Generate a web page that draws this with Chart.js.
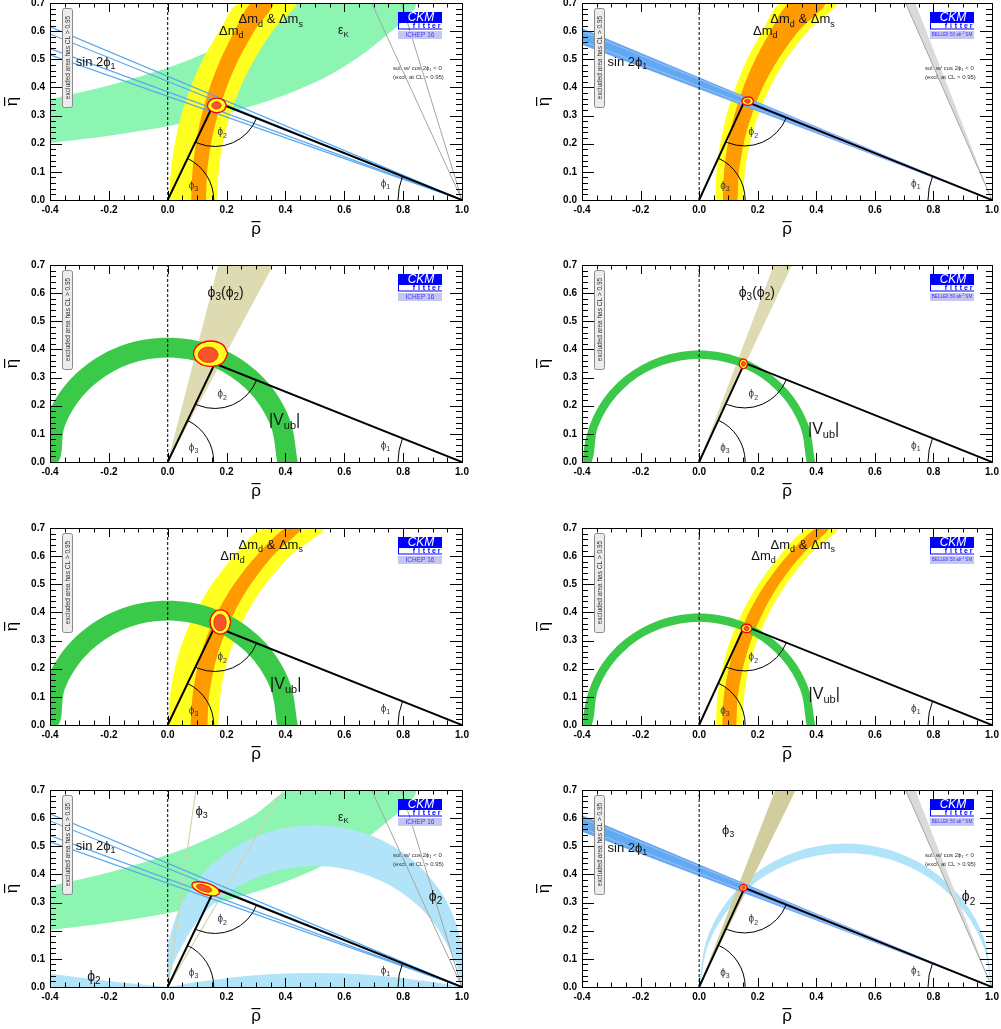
<!DOCTYPE html>
<html>
<head>
<meta charset="utf-8">
<script src="https://cdn.jsdelivr.net/npm/chart.js@4.4.1/dist/chart.umd.min.js"></script>
<style>
  html, body { margin: 0; padding: 0; background: #fff; width: 1001px; height: 1029px; overflow: hidden; }
  canvas { position: absolute; }
</style>
</head>
<body>
<script>
const FONT = '"Liberation Sans", Arial, Helvetica, sans-serif';

// ---------- axes ----------
const rhoTicks = [-0.4, -0.2, 0.0, 0.2, 0.4, 0.6, 0.8, 1.0];
const etaTicks = [0.0, 0.1, 0.2, 0.3, 0.4, 0.5, 0.6, 0.7];

// ---------- triangle apex (rho, eta) ----------
const apexICHEP = [0.160, 0.350];
const apexBelle = [0.155, 0.352];

// ---------- epsilon_K band (ICHEP) ----------
const epsKLow  = [[-0.4, 0.202], [-0.2, 0.228], [0.0, 0.262], [0.2, 0.308], [0.4, 0.374], [0.55, 0.444], [0.7, 0.548], [0.84, 0.70]];
const epsKHigh = [[0.419, 0.70], [0.3, 0.615], [0.2, 0.558], [0.1, 0.510], [0.0, 0.470], [-0.2, 0.407], [-0.4, 0.358]];

// ---------- sin 2phi1 (eta at rho = -0.4, lines end at (1,0)) ----------
const sin2EtaICHEP = [0.615, 0.590, 0.538, 0.516];
const sin2BandBelle = [0.610, 0.552];
const sin2InnerBelle = [0.600, 0.565];

// ---------- cos 2phi1 < 0 solution (rho at eta = 0.7) ----------
const grayRhoICHEP = [0.693, 0.794];
const grayRhoBelle = [0.705, 0.738];

// ---------- Delta m_d & Delta m_s (edges, bottom -> top) ----------
const dmYL1 = [[0.006, 0], [0.010, 0.1], [0.024, 0.2], [0.046, 0.3], [0.078, 0.4], [0.120, 0.5], [0.175, 0.6], [0.243, 0.7]];
const dmOL1 = [[0.080, 0], [0.084, 0.1], [0.096, 0.2], [0.115, 0.3], [0.143, 0.4], [0.180, 0.5], [0.227, 0.6], [0.285, 0.7]];
const dmOR1 = [[0.130, 0], [0.134, 0.1], [0.147, 0.2], [0.169, 0.3], [0.200, 0.4], [0.241, 0.5], [0.294, 0.6], [0.360, 0.7]];
const dmYR1 = [[0.168, 0], [0.173, 0.1], [0.187, 0.2], [0.212, 0.3], [0.247, 0.4], [0.295, 0.5], [0.356, 0.6], [0.435, 0.7]];

const dmYL2 = [[0.055, 0], [0.059, 0.1], [0.072, 0.2], [0.093, 0.3], [0.124, 0.4], [0.164, 0.5], [0.216, 0.6], [0.280, 0.7]];
const dmOL2 = [[0.081, 0], [0.085, 0.1], [0.098, 0.2], [0.120, 0.3], [0.151, 0.4], [0.192, 0.5], [0.244, 0.6], [0.310, 0.7]];
const dmOR2 = [[0.131, 0], [0.136, 0.1], [0.152, 0.2], [0.179, 0.3], [0.217, 0.4], [0.270, 0.5], [0.339, 0.6], [0.430, 0.7]];
const dmYR2 = [[0.151, 0], [0.156, 0.1], [0.173, 0.2], [0.201, 0.3], [0.242, 0.4], [0.297, 0.5], [0.371, 0.6], [0.470, 0.7]];

const dmYL5 = [[0.002, 0], [0.007, 0.1], [0.024, 0.2], [0.052, 0.3], [0.094, 0.4], [0.150, 0.5], [0.225, 0.6], [0.325, 0.7]];
const dmOL5 = [[0.078, 0], [0.084, 0.1], [0.100, 0.2], [0.128, 0.3], [0.169, 0.4], [0.225, 0.5], [0.300, 0.6], [0.400, 0.7]];
const dmOR5 = [[0.135, 0], [0.140, 0.1], [0.157, 0.2], [0.185, 0.3], [0.226, 0.4], [0.282, 0.5], [0.356, 0.6], [0.456, 0.7]];
const dmYR5 = [[0.172, 0], [0.178, 0.1], [0.196, 0.2], [0.226, 0.3], [0.270, 0.4], [0.332, 0.5], [0.415, 0.6], [0.530, 0.7]];

const dmYL6 = [[0.057, 0], [0.062, 0.1], [0.079, 0.2], [0.106, 0.3], [0.147, 0.4], [0.202, 0.5], [0.274, 0.6], [0.371, 0.7]];
const dmOL6 = [[0.079, 0], [0.084, 0.1], [0.101, 0.2], [0.129, 0.3], [0.170, 0.4], [0.226, 0.5], [0.300, 0.6], [0.400, 0.7]];
const dmOR6 = [[0.127, 0], [0.132, 0.1], [0.149, 0.2], [0.177, 0.3], [0.218, 0.4], [0.273, 0.5], [0.347, 0.6], [0.445, 0.7]];
const dmYR6 = [[0.147, 0], [0.153, 0.1], [0.169, 0.2], [0.198, 0.3], [0.240, 0.4], [0.297, 0.5], [0.373, 0.6], [0.475, 0.7]];

// ---------- |Vub| ring ----------
const vubOutICHEP = [[0.442, 0], [0.415, 0.151], [0.339, 0.284], [0.221, 0.383], [0.077, 0.435], [-0.077, 0.435], [-0.221, 0.383], [-0.339, 0.284], [-0.415, 0.151], [-0.442, 0]];
const vubInICHEP  = [[0.372, 0], [0.350, 0.127], [0.285, 0.239], [0.186, 0.322], [0.065, 0.366], [-0.065, 0.366], [-0.186, 0.322], [-0.285, 0.239], [-0.350, 0.127], [-0.372, 0]];
const vubOutBelle = [[0.396, 0], [0.372, 0.135], [0.303, 0.255], [0.198, 0.343], [0.069, 0.390], [-0.069, 0.390], [-0.198, 0.343], [-0.303, 0.255], [-0.372, 0.135], [-0.396, 0]];
const vubInBelle  = [[0.367, 0], [0.345, 0.126], [0.281, 0.236], [0.184, 0.318], [0.064, 0.361], [-0.064, 0.361], [-0.184, 0.318], [-0.281, 0.236], [-0.345, 0.126], [-0.367, 0]];

// ---------- phi3 ----------
const phi3WedgeICHEP = [[0, 0], [0.172, 0.7], [0.359, 0.7]];
const phi3WedgeBelle = [[0, 0], [0.255, 0.7], [0.317, 0.7]];
const phi3WedgeBelle8 = [[0, 0], [0.260, 0.7], [0.330, 0.7]];
const phi3LinesICHEP = [0.096, 0.394]; // rho at eta = 0.7

// ---------- phi2 ----------
const phi2OutICHEP = [[1.0, 0], [0.997, 0.158], [0.937, 0.323], [0.825, 0.457], [0.673, 0.545], [0.5, 0.575], [0.327, 0.545], [0.175, 0.457], [0.063, 0.323], [0.003, 0.158], [0, 0]];
const phi2InICHEP  = [[0, 0], [0.025, 0.097], [0.113, 0.249], [0.247, 0.362], [0.412, 0.422], [0.588, 0.422], [0.753, 0.362], [0.887, 0.249], [0.975, 0.097], [1.0, 0]];
const phi2LensR = [[0, 0], [0.1, 0.018], [0.3, 0.042], [0.5, 0.05], [0.7, 0.042], [0.9, 0.018], [1.0, 0]];
const phi2LensL = [[-0.4, 0], [-0.4, 0.047], [-0.2, 0.020], [0, 0]];
const phi2OutBelle = [[1.0, 0.01], [0.970, 0.181], [0.883, 0.331], [0.750, 0.443], [0.587, 0.502], [0.413, 0.502], [0.250, 0.443], [0.117, 0.331], [0.030, 0.181], [0, 0.01]];
const phi2InBelle  = [[0, -0.024], [0.030, 0.147], [0.117, 0.298], [0.250, 0.410], [0.413, 0.469], [0.587, 0.469], [0.750, 0.410], [0.883, 0.298], [0.970, 0.147], [1.0, -0.024]];

// ---------- global fit contours (outer 95%, inner 68%) ----------
const fit1Out = [[0.199, 0.336], [0.190, 0.354], [0.167, 0.362], [0.144, 0.354], [0.135, 0.336], [0.144, 0.318], [0.167, 0.310], [0.190, 0.318]];
const fit1In  = [[0.182, 0.336], [0.177, 0.345], [0.166, 0.349], [0.155, 0.345], [0.150, 0.336], [0.155, 0.327], [0.166, 0.323], [0.177, 0.327]];
const fit2Out = [[0.186, 0.351], [0.180, 0.362], [0.166, 0.366], [0.152, 0.362], [0.146, 0.351], [0.152, 0.340], [0.166, 0.336], [0.180, 0.340]];
const fit2In  = [[0.175, 0.351], [0.172, 0.356], [0.165, 0.358], [0.158, 0.356], [0.155, 0.351], [0.158, 0.346], [0.165, 0.344], [0.172, 0.346]];
const fit3Out = [[0.204, 0.385], [0.187, 0.417], [0.146, 0.430], [0.105, 0.417], [0.088, 0.385], [0.105, 0.353], [0.146, 0.340], [0.187, 0.353]];
const fit3In  = [[0.172, 0.381], [0.162, 0.400], [0.138, 0.408], [0.114, 0.400], [0.104, 0.381], [0.114, 0.362], [0.138, 0.354], [0.162, 0.362]];
const fit4Out = [[0.165, 0.349], [0.161, 0.361], [0.151, 0.366], [0.141, 0.361], [0.137, 0.349], [0.141, 0.337], [0.151, 0.332], [0.161, 0.337]];
const fit4In  = [[0.158, 0.349], [0.156, 0.355], [0.151, 0.358], [0.146, 0.355], [0.144, 0.349], [0.146, 0.343], [0.151, 0.340], [0.156, 0.343]];
const fit5Out = [[0.214, 0.366], [0.204, 0.396], [0.179, 0.409], [0.154, 0.396], [0.144, 0.366], [0.154, 0.336], [0.179, 0.323], [0.204, 0.336]];
const fit5In  = [[0.199, 0.364], [0.193, 0.385], [0.178, 0.393], [0.163, 0.385], [0.157, 0.364], [0.163, 0.343], [0.178, 0.335], [0.193, 0.343]];
const fit6Out = [[0.180, 0.343], [0.175, 0.354], [0.162, 0.358], [0.149, 0.354], [0.144, 0.343], [0.149, 0.332], [0.162, 0.328], [0.175, 0.332]];
const fit6In  = [[0.171, 0.343], [0.168, 0.349], [0.162, 0.351], [0.156, 0.349], [0.153, 0.343], [0.156, 0.337], [0.162, 0.335], [0.168, 0.337]];
const fit7Out = [[0.177, 0.333], [0.168, 0.351], [0.137, 0.368], [0.101, 0.374], [0.083, 0.366], [0.092, 0.347], [0.123, 0.330], [0.159, 0.324]];
const fit7In  = [[0.150, 0.342], [0.145, 0.352], [0.128, 0.361], [0.108, 0.365], [0.098, 0.360], [0.103, 0.350], [0.120, 0.341], [0.140, 0.337]];
const fit8Out = [[0.164, 0.353], [0.160, 0.361], [0.151, 0.365], [0.142, 0.361], [0.138, 0.353], [0.142, 0.345], [0.151, 0.341], [0.160, 0.345]];
const fit8In  = [[0.157, 0.353], [0.155, 0.357], [0.151, 0.359], [0.147, 0.357], [0.145, 0.353], [0.147, 0.349], [0.151, 0.347], [0.155, 0.349]];

// ---------- colours ----------
const C = {
  epsK: '#8cf5b2', yellow: '#ffff20', orange: '#ff9a00', vub: '#3bc94a',
  wedge: '#dedbb2', wedge8: '#d2cd9c', phi2: '#b2e4f9', sin2: '#58a8f0',
  sin2band: '#5eaaf3', sin2inner: '#c9b9ef', gray: '#a4a4a4', grayFill: '#dadada'
};

// ---------- helpers ----------
const pts = arr => arr.map(p => ({ x: p[0], y: p[1] }));
const poly = (a, b) => a.concat(b.slice().reverse());
const closed = a => a.concat([a[0]]);

function area(data, color, opt = {}) {
  return Object.assign({ data: pts(data), showLine: true, pointRadius: 0, fill: 'shape',
    backgroundColor: color, borderColor: color, borderWidth: 0, tension: 0.3 }, opt);
}
function line(data, color, width, opt = {}) {
  return Object.assign({ data: pts(data), showLine: true, pointRadius: 0, fill: false,
    borderColor: color, borderWidth: width, tension: 0 }, opt);
}
function common(apex) {
  return [
    line([[0, 0], [0, 0.7]], '#000', 1, { borderDash: [3, 2] }),
    line([[0, 0], apex, [1, 0]], '#000', 2)
  ];
}
function fitContours(out, inn) {
  return [
    area(closed(out), C.yellow, { borderColor: '#ff0000', borderWidth: 1.3, tension: 0.4 }),
    area(closed(inn), '#f8562a', { borderColor: '#e02010', borderWidth: 0.8, tension: 0.4 })
  ];
}
const ring = (out, inn, color) => area(poly(out, inn), color, { tension: 0.34 });
const sinLines = etas => etas.map(e => line([[-0.4, e], [1, 0]], C.sin2, 1.2));
const sinBand = () => [
  area([[1, 0], [-0.4, sin2BandBelle[0]], [-0.4, sin2BandBelle[1]]], C.sin2band, { tension: 0 }),
  ...sin2InnerBelle.map(e => line([[-0.4, e], [1, 0]], C.sin2inner, 0.8))
];
const grayLines = () => grayRhoICHEP.map(r => line([[r, 0.7], [1, 0]], C.gray, 1));
const grayBand = () => [area([[1, 0], [grayRhoBelle[0], 0.7], [grayRhoBelle[1], 0.7]], C.grayFill,
  { tension: 0, borderColor: C.gray, borderWidth: 1 })];
const dmBand = (yl, ol, or, yr) => [
  area(poly(yl, yr), C.yellow),
  area(poly(ol, or), C.orange)
];

const panels = [
  { left: 0, top: 3, w: 480, padR: 18, exp: 'ICHEP 16', apex: apexICHEP, sol: true,
    layers: [area(epsKLow.concat(epsKHigh), C.epsK), ...dmBand(dmYL1, dmOL1, dmOR1, dmYR1),
      ...sinLines(sin2EtaICHEP), ...grayLines(), ...common(apexICHEP), ...fitContours(fit1Out, fit1In)],
    labels: [['sin 2ϕ_{1}', -0.245, 0.49, 13], ['Δm_{d}', 0.216, 0.60, 13], ['Δm_{d} & Δm_{s}', 0.35, 0.64, 13], ['ε_{K}', 0.597, 0.60, 12]] },
  { left: 532, top: 3, w: 469, padR: 9, exp: 'belle', apex: apexBelle, sol: true,
    layers: [...dmBand(dmYL2, dmOL2, dmOR2, dmYR2), ...sinBand(), ...grayBand(), ...common(apexBelle), ...fitContours(fit2Out, fit2In)],
    labels: [['sin 2ϕ_{1}', -0.245, 0.49, 13], ['Δm_{d}', 0.226, 0.60, 13], ['Δm_{d} & Δm_{s}', 0.353, 0.64, 13]] },
  { left: 0, top: 265, w: 480, padR: 18, exp: 'ICHEP 16', apex: apexICHEP,
    layers: [area(phi3WedgeICHEP, C.wedge, { tension: 0 }), ring(vubOutICHEP, vubInICHEP, C.vub),
      ...common(apexICHEP), ...fitContours(fit3Out, fit3In)],
    labels: [['ϕ_{3}(ϕ_{2})', 0.197, 0.60, 14], ['|V_{ub}|', 0.397, 0.146, 16]] },
  { left: 532, top: 265, w: 469, padR: 9, exp: 'belle', apex: apexBelle,
    layers: [area(phi3WedgeBelle, C.wedge, { tension: 0 }), ring(vubOutBelle, vubInBelle, C.vub),
      ...common(apexBelle), ...fitContours(fit4Out, fit4In)],
    labels: [['ϕ_{3}(ϕ_{2})', 0.197, 0.60, 14], ['|V_{ub}|', 0.425, 0.114, 16]] },
  { left: 0, top: 528, w: 480, padR: 18, exp: 'ICHEP 16', apex: apexICHEP,
    layers: [...dmBand(dmYL5, dmOL5, dmOR5, dmYR5), ring(vubOutICHEP, vubInICHEP, C.vub),
      ...common(apexICHEP), ...fitContours(fit5Out, fit5In)],
    labels: [['Δm_{d} & Δm_{s}', 0.35, 0.637, 13], ['Δm_{d}', 0.22, 0.60, 13], ['|V_{ub}|', 0.401, 0.142, 16]] },
  { left: 532, top: 528, w: 469, padR: 9, exp: 'belle', apex: apexBelle,
    layers: [...dmBand(dmYL6, dmOL6, dmOR6, dmYR6), ring(vubOutBelle, vubInBelle, C.vub),
      ...common(apexBelle), ...fitContours(fit6Out, fit6In)],
    labels: [['Δm_{d} & Δm_{s}', 0.354, 0.637, 13], ['Δm_{d}', 0.22, 0.60, 13], ['|V_{ub}|', 0.427, 0.107, 16]] },
  { left: 0, top: 790, w: 480, padR: 18, exp: 'ICHEP 16', apex: apexICHEP, sol: true,
    layers: [area(epsKLow.concat(epsKHigh), C.epsK), ring(phi2OutICHEP, phi2InICHEP.slice().reverse(), C.phi2),
      area(phi2LensR, C.phi2), area(phi2LensL, C.phi2, { tension: 0 }),
      ...phi3LinesICHEP.map(r => line([[0, 0], [r, 0.7]], '#d6d2a6', 1.2)),
      ...sinLines(sin2EtaICHEP), ...grayLines(), ...common(apexICHEP), ...fitContours(fit7Out, fit7In)],
    labels: [['sin 2ϕ_{1}', -0.245, 0.50, 13], ['ε_{K}', 0.597, 0.603, 12], ['ϕ_{3}', 0.115, 0.623, 13],
      ['ϕ_{2}', -0.251, 0.036, 14], ['ϕ_{2}', 0.91, 0.319, 14]] },
  { left: 532, top: 790, w: 469, padR: 9, exp: 'belle', apex: apexBelle, sol: true,
    layers: [ring(phi2OutBelle, phi2InBelle.slice().reverse(), C.phi2), area(phi3WedgeBelle8, C.wedge8, { tension: 0 }),
      ...sinBand(), ...grayBand(), ...common(apexBelle), ...fitContours(fit8Out, fit8In)],
    labels: [['sin 2ϕ_{1}', -0.245, 0.492, 13], ['ϕ_{3}', 0.099, 0.558, 13], ['ϕ_{2}', 0.92, 0.318, 14]] }
];

// ---------- text with _{sub} and ^{sup} ----------
function richText(ctx, s, x, y, size, color, align = 'center') {
  const parts = [];
  let i = 0;
  while (i < s.length) {
    if ((s[i] === '_' || s[i] === '^') && s[i + 1] === '{') {
      const j = s.indexOf('}', i);
      parts.push({ t: s.slice(i + 2, j), k: s[i] });
      i = j + 1;
    } else {
      let j = i;
      while (j < s.length && !((s[j] === '_' || s[j] === '^') && s[j + 1] === '{')) j++;
      parts.push({ t: s.slice(i, j), k: '' });
      i = j;
    }
  }
  const fontFor = p => (p.k ? Math.round(size * 0.68) : size) + 'px ' + FONT;
  let total = 0;
  parts.forEach(p => { ctx.font = fontFor(p); p.w = ctx.measureText(p.t).width; total += p.w; });
  let cx = align === 'center' ? x - total / 2 : align === 'right' ? x - total : x;
  ctx.fillStyle = color;
  ctx.textBaseline = 'middle';
  ctx.textAlign = 'left';
  parts.forEach(p => {
    ctx.font = fontFor(p);
    const dy = p.k === '_' ? size * 0.32 : p.k === '^' ? -size * 0.32 : 0;
    ctx.fillText(p.t, cx, y + dy);
    cx += p.w;
  });
}

function drawLogo(ctx, x, y, exp) {
  const w = 44;
  ctx.fillStyle = '#0000ff';
  ctx.fillRect(x, y, w, 11);
  ctx.fillStyle = '#fff';
  ctx.font = 'italic 12px ' + FONT;
  ctx.textAlign = 'center';
  ctx.textBaseline = 'middle';
  ctx.fillText('CKM', x + 23, y + 6);
  ctx.fillStyle = '#0000ff';
  ctx.fillRect(x, y + 11, 1, 6);
  ctx.fillRect(x, y + 16.5, w, 1);
  ctx.font = 'bold 7px ' + FONT;
  'fitter'.split('').forEach((c, k) => ctx.fillText(c, x + 16 + k * 5, y + 13.8));
  ctx.fillStyle = '#c6c6f0';
  ctx.fillRect(x, y + 19, w, 8);
  if (exp === 'belle') {
    richText(ctx, 'BELLEII 50 ab^{-1} SM', x + w / 2, y + 23, 4.6, '#3a3aff');
  } else {
    ctx.fillStyle = '#3a3aff';
    ctx.font = '6.5px ' + FONT;
    ctx.textAlign = 'center';
    ctx.fillText(exp, x + w / 2, y + 23.3);
  }
}

function makeDecor(p) {
  return {
    id: 'decor',
    afterDatasetsDraw(chart) {
      const ctx = chart.ctx, a = chart.chartArea, xs = chart.scales.x, ys = chart.scales.y;
      const P = (r, e) => ({ x: xs.getPixelForValue(r), y: ys.getPixelForValue(e) });
      ctx.save();

      // angle arcs of the triangle
      const O = P(0, 0), A = P(p.apex[0], p.apex[1]), B = P(1, 0);
      ctx.strokeStyle = '#000';
      ctx.lineWidth = 1;
      ctx.beginPath();
      ctx.arc(O.x, O.y, 46, Math.atan2(A.y - O.y, A.x - O.x), 0);
      ctx.stroke();
      ctx.beginPath();
      ctx.arc(A.x, A.y, 45, Math.atan2(B.y - A.y, B.x - A.x), Math.atan2(O.y - A.y, O.x - A.x));
      ctx.stroke();
      ctx.beginPath();
      ctx.arc(B.x, B.y, 64, Math.PI, Math.atan2(A.y - B.y, A.x - B.x) + 2 * Math.PI);
      ctx.stroke();
      [['ϕ_{3}', 0.088, 0.05], ['ϕ_{2}', 0.185, 0.24], ['ϕ_{1}', 0.74, 0.057]].forEach(l => {
        const q = P(l[1], l[2]);
        richText(ctx, l[0], q.x, q.y, 10, '#333');
      });

      // constraint labels
      p.labels.forEach(l => {
        const q = P(l[1], l[2]);
        richText(ctx, l[0], q.x, q.y, l[3], '#111');
      });

      if (p.sol) {
        richText(ctx, 'sol. w/ cos 2ϕ_{1} < 0', a.left + 343, a.top + 65, 6, '#333', 'left');
        richText(ctx, '(excl. at CL > 0.95)', a.left + 343, a.top + 74, 6, '#333', 'left');
      }

      // excluded area box
      const bx = a.left + 12, by = a.top + 5, bw = 10, bh = 99;
      ctx.fillStyle = '#ececec';
      ctx.strokeStyle = '#8a8a8a';
      ctx.lineWidth = 1;
      ctx.beginPath();
      ctx.roundRect(bx + 0.5, by + 0.5, bw, bh, 2);
      ctx.fill();
      ctx.stroke();
      ctx.save();
      ctx.translate(bx + bw / 2 + 0.5, by + bh / 2);
      ctx.rotate(-Math.PI / 2);
      ctx.fillStyle = '#333';
      ctx.font = '6.5px ' + FONT;
      ctx.textAlign = 'center';
      ctx.textBaseline = 'middle';
      ctx.fillText('excluded area has CL > 0.95', 0, 0.5);
      ctx.restore();

      drawLogo(ctx, a.left + 348, a.top + 9, p.exp);

      // frame and inward ticks
      ctx.strokeStyle = '#000';
      ctx.lineWidth = 1;
      ctx.strokeRect(Math.round(a.left) + 0.5, Math.round(a.top) + 0.5, Math.round(a.right - a.left), Math.round(a.bottom - a.top));
      ctx.beginPath();
      for (let k = 0; k <= 35; k++) {
        const y = Math.round(ys.getPixelForValue(k * 0.02)) + 0.5;
        const len = k % 5 === 0 ? 12 : 6;
        ctx.moveTo(a.left, y); ctx.lineTo(a.left + len, y);
        ctx.moveTo(a.right, y); ctx.lineTo(a.right - len, y);
      }
      for (let k = 0; k <= 28; k++) {
        const x = Math.round(xs.getPixelForValue(-0.4 + k * 0.05)) + 0.5;
        const len = k % 4 === 0 ? 9 : 4.5;
        ctx.moveTo(x, a.bottom); ctx.lineTo(x, a.bottom - len);
        ctx.moveTo(x, a.top); ctx.lineTo(x, a.top + len);
      }
      ctx.stroke();

      // axis titles with overbar
      ctx.fillStyle = '#000';
      ctx.font = '17px ' + FONT;
      ctx.textAlign = 'center';
      ctx.textBaseline = 'middle';
      const tx = (a.left + a.right) / 2, ty = a.bottom + 29;
      ctx.fillText('ρ', tx, ty);
      ctx.fillRect(tx - 4.5, ty - 8, 9, 1.2);
      ctx.save();
      ctx.translate(a.left - 38, (a.top + a.bottom) / 2);
      ctx.rotate(-Math.PI / 2);
      ctx.fillText('η', 0, 0);
      ctx.fillRect(-4.5, -8, 9, 1.2);
      ctx.restore();

      ctx.restore();
    }
  };
}

const tickFont = { family: FONT, size: 10, weight: 'bold' };
const H = 250, PADTOP = 8;

panels.forEach(p => {
  const cv = document.createElement('canvas');
  cv.width = p.w;
  cv.height = H;
  cv.style.left = p.left + 'px';
  cv.style.top = (p.top - PADTOP) + 'px';
  document.body.appendChild(cv);
  const n = p.layers.length;
  p.layers.forEach((d, i) => { d.order = n - 1 - i; });

  new Chart(cv, {
    type: 'scatter',
    data: { datasets: p.layers },
    options: {
      responsive: false,
      animation: false,
      devicePixelRatio: 1,
      events: [],
      layout: { padding: { left: 0, right: p.padR, top: PADTOP, bottom: 0 } },
      elements: { line: { capBezierPoints: false } },
      plugins: { legend: { display: false }, tooltip: { enabled: false } },
      scales: {
        x: {
          type: 'linear', min: -0.4, max: 1.0,
          afterBuildTicks: s => { s.ticks = rhoTicks.map(v => ({ value: v })); },
          ticks: { callback: v => Number(v).toFixed(1), font: tickFont, color: '#000', padding: 4, maxRotation: 0, autoSkip: false },
          grid: { display: false, drawTicks: false },
          border: { display: false },
          afterFit: s => { s.height = H - PADTOP - 197; s.paddingLeft = 0; s.paddingRight = 0; }
        },
        y: {
          type: 'linear', min: 0, max: 0.7,
          afterBuildTicks: s => { s.ticks = etaTicks.map(v => ({ value: v })); },
          ticks: { callback: v => Number(v).toFixed(1), font: tickFont, color: '#000', padding: 5, autoSkip: false },
          grid: { display: false, drawTicks: false },
          border: { display: false },
          afterFit: s => { s.width = 50; s.paddingTop = 0; s.paddingBottom = 0; }
        }
      }
    },
    plugins: [makeDecor(p)]
  });
});
</script>
</body>
</html>
